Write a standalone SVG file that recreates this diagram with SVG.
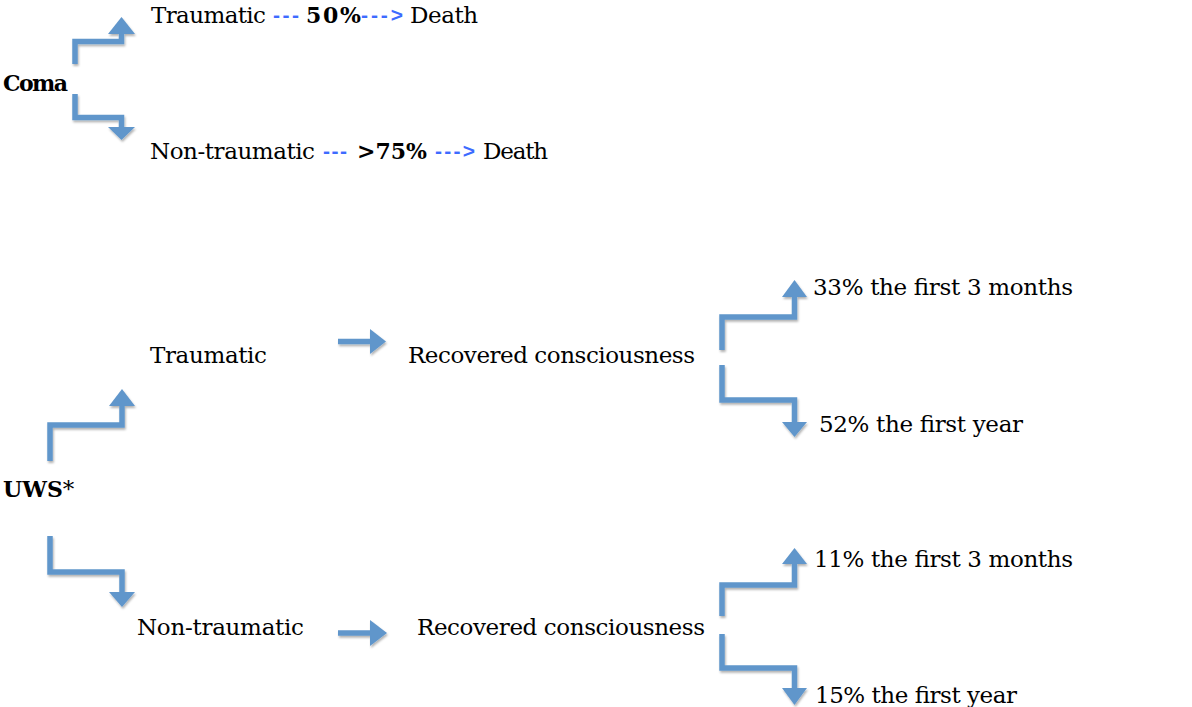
<svg xmlns="http://www.w3.org/2000/svg" width="1192" height="707" viewBox="0 0 1192 707">
<style>
text{font-family:"DejaVu Serif","Liberation Serif",serif;font-size:23px;fill:#000}
.b{font-weight:bold;font-size:22px}
.d{fill:#3d6bff;font-weight:bold;font-family:"Liberation Sans",sans-serif;font-size:21px}
.bar{fill:none;stroke:#6096cb;stroke-width:5.5;stroke-linejoin:miter}
.head{fill:#6096cb}
</style>
<defs>
<filter id="sh" x="-20%" y="-20%" width="140%" height="140%">
<feDropShadow dx="1" dy="2" stdDeviation="1" flood-color="#000" flood-opacity="0.3"/>
</filter>
</defs>
<rect width="1192" height="707" fill="#fff"/>
<g id="connectors" filter="url(#sh)">
<path class="bar" d="M75,64 V41.5 H121.5 V34"/>
<polygon class="head" points="108,34 135,34 121.5,17"/>
<path class="bar" d="M75,94 V117.5 H121.5 V127"/>
<polygon class="head" points="108,127 135,127 121.5,140"/>
<path class="bar" d="M50,461 V425 H122 V406"/>
<polygon class="head" points="109,406 135,406 122,389"/>
<path class="bar" d="M50,536 V572 H122 V592"/>
<polygon class="head" points="109,592 135,592 122,607"/>
<path class="bar" d="M338,341.5 H371"/>
<polygon class="head" points="370,329 370,354 386,341.5"/>
<path class="bar" d="M338,633 H371"/>
<polygon class="head" points="370,620 370,646 387,633"/>
<path class="bar" d="M722,350 V317 H794.5 V297"/>
<polygon class="head" points="782,297 807,297 794.5,280"/>
<path class="bar" d="M722,365 V400 H794.5 V422"/>
<polygon class="head" points="782,422 807,422 794.5,437"/>
<path class="bar" d="M722,616 V585 H794.5 V564"/>
<polygon class="head" points="782,564 807,564 794.5,548"/>
<path class="bar" d="M722,634 V668 H794.5 V688"/>
<polygon class="head" points="782,688 807,688 794.5,705"/>
</g>
<g id="coma"><text class="b" x="3" y="91" textLength="65">Coma</text></g>
<g id="coma-traumatic">
<text x="151" y="23" textLength="115">Traumatic</text>
<text class="d" x="273" y="22" textLength="26">---</text>
<text class="b" x="306" y="23" textLength="55">50%</text>
<text class="d" x="361" y="22" textLength="42">---&gt;</text>
<text x="410" y="23" textLength="68">Death</text>
</g>
<g id="coma-nontraumatic">
<text x="150" y="159" textLength="165">Non-traumatic</text>
<text class="d" x="323" y="158" textLength="24">---</text>
<text class="b" x="357" y="159" textLength="70">&gt;75%</text>
<text class="d" x="435" y="158" textLength="40">---&gt;</text>
<text x="483" y="159" textLength="65">Death</text>
</g>
<g id="uws"><text x="3" y="497"><tspan class="b">UWS</tspan>*</text></g>
<g id="uws-traumatic"><text x="150" y="363" textLength="117">Traumatic</text></g>
<g id="traumatic-recovered"><text x="408" y="363" textLength="287">Recovered consciousness</text></g>
<g id="traumatic-3m"><text x="813" y="295" textLength="260">33% the first 3 months</text></g>
<g id="traumatic-1y"><text x="819" y="432" textLength="204">52% the first year</text></g>
<g id="uws-nontraumatic"><text x="137" y="635" textLength="167">Non-traumatic</text></g>
<g id="nontraumatic-recovered"><text x="417" y="635" textLength="288">Recovered consciousness</text></g>
<g id="nontraumatic-3m"><text x="814" y="567" textLength="259">11% the first 3 months</text></g>
<g id="nontraumatic-1y"><text x="815" y="703" textLength="202">15% the first year</text></g>
</svg>
